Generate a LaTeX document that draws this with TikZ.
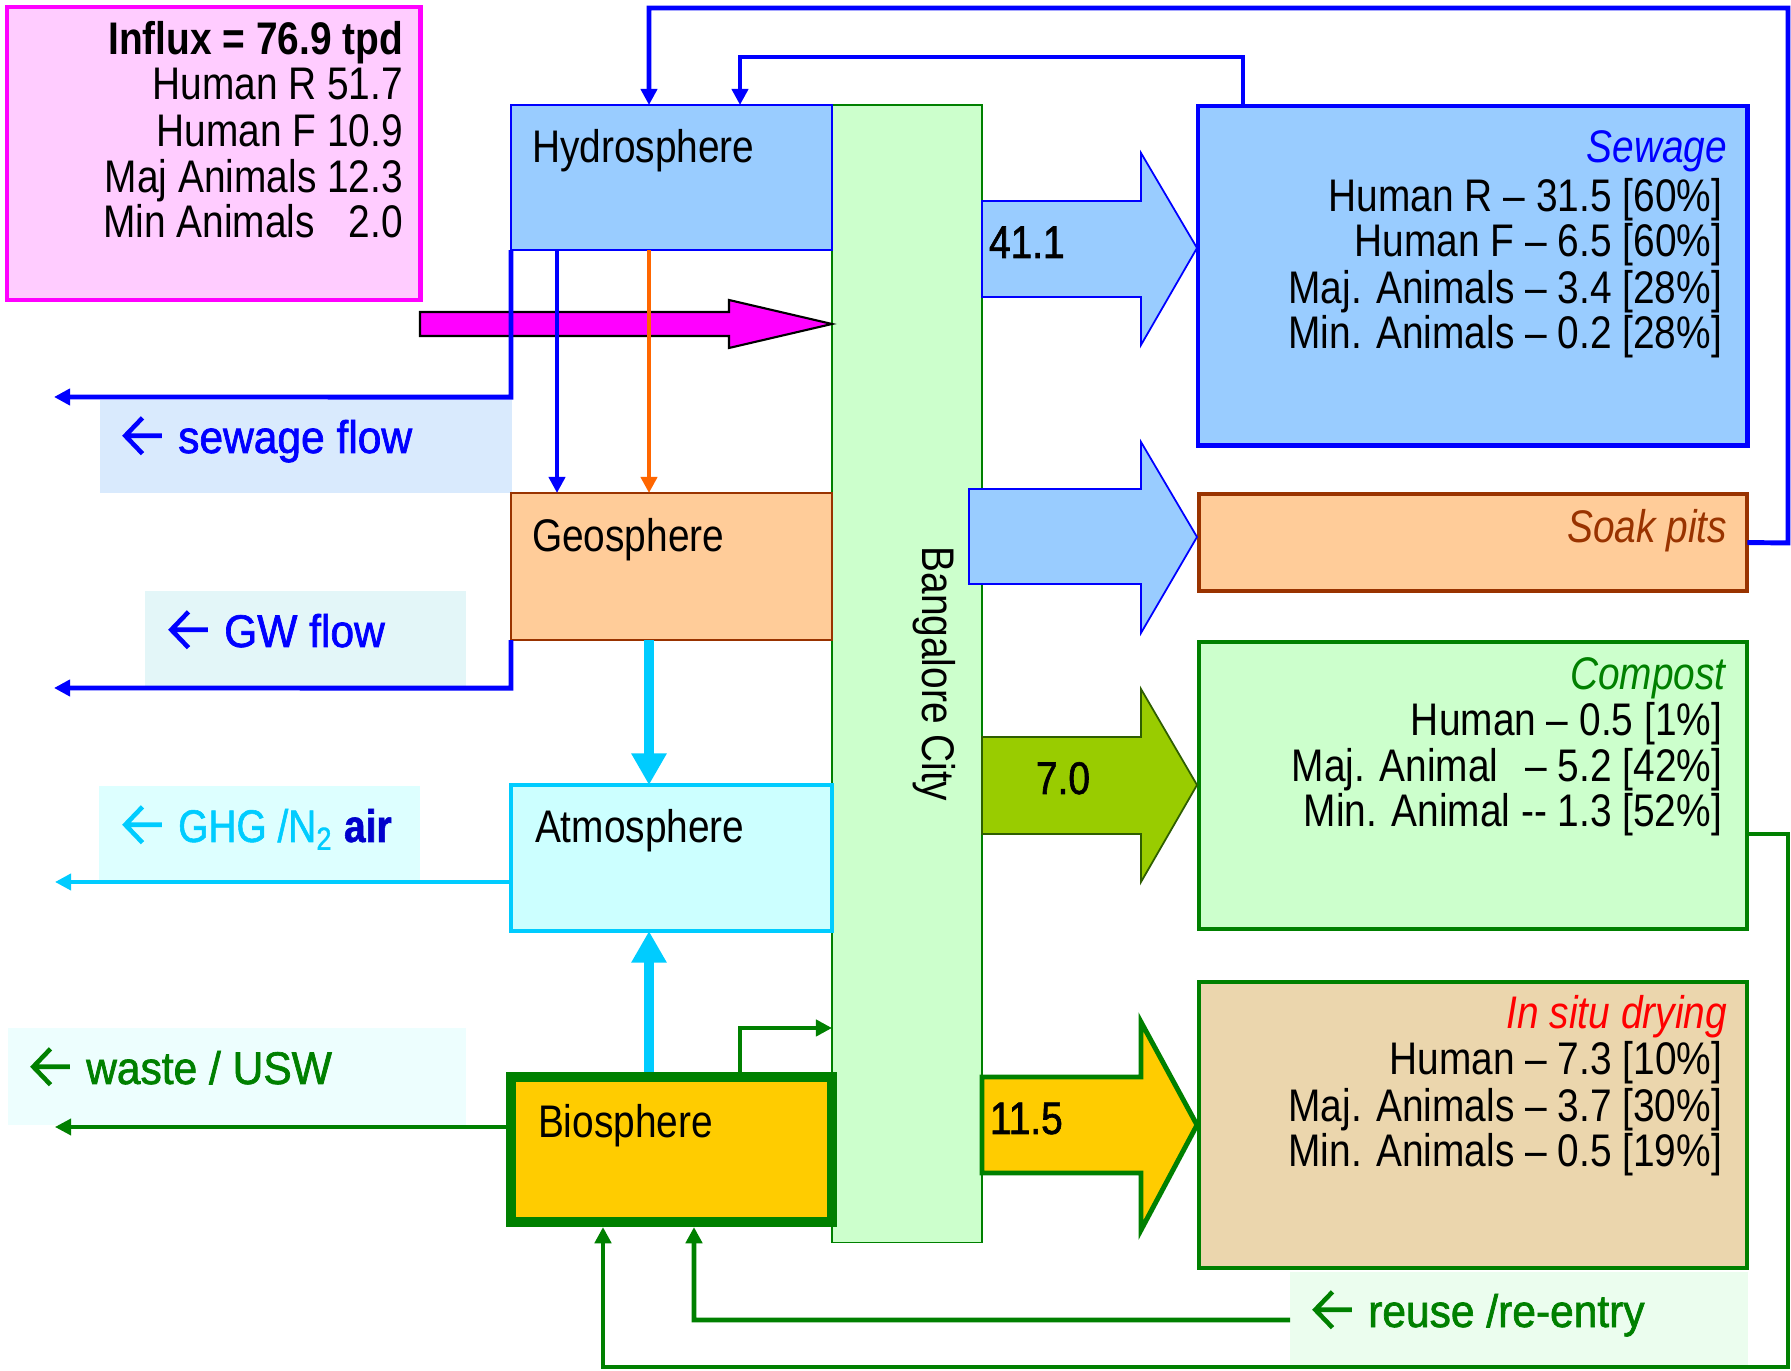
\documentclass[tikz,border=0pt]{standalone}
\usepackage{fontspec}
\setmainfont[FakeStretch=0.85]{Liberation Sans}
\newfontfamily\semibold[FakeStretch=0.85,FakeBold=1.3]{Liberation Sans}
\newfontfamily\labfont[FakeStretch=0.93,FakeBold=1.5]{Liberation Sans}
\newfontfamily\ghgfont[FakeStretch=0.85,FakeBold=1.2]{Liberation Sans}
\usetikzlibrary{arrows.meta,calc}
\definecolor{mag}{HTML}{FF00FF}
\definecolor{influxfill}{HTML}{FFCCFF}
\definecolor{hydfill}{HTML}{99CCFF}
\definecolor{colfill}{HTML}{CCFFCC}
\definecolor{geofill}{HTML}{FFCC99}
\definecolor{brn}{HTML}{993300}
\definecolor{atmfill}{HTML}{CCFFFF}
\definecolor{cyn}{HTML}{00CCFF}
\definecolor{gold}{HTML}{FFCC00}
\definecolor{grn}{HTML}{008000}
\definecolor{blu}{HTML}{0000FF}
\definecolor{darkblu}{HTML}{0000CC}
\definecolor{org}{HTML}{FF6600}
\definecolor{tanfill}{HTML}{EBD6AD}
\definecolor{limefill}{HTML}{99CC00}
\definecolor{limedraw}{HTML}{2E5E00}
\definecolor{redtxt}{HTML}{FF0000}
\definecolor{sewlabfill}{HTML}{D9EAFD}
\definecolor{gwlabfill}{HTML}{E3F6F8}
\definecolor{ghglabfill}{HTML}{DDFFFF}
\definecolor{wastelabfill}{HTML}{EDFEFE}
\definecolor{reuselabfill}{HTML}{EBFDEE}
\newcommand\diagfont{\fontsize{13pt}{15pt}\selectfont}
\newcommand\larr[1]{\tikz[baseline=0pt,x=1pt,y=1pt]{\draw[#1,line width=1.3pt,line join=miter] (11.2,4.9) -- (1,4.9) (5.7,10) -- (0.8,4.9) -- (5.7,-0.2);}\hspace{4pt}}
\begin{document}
\begin{tikzpicture}[x=0.01cm,y=-0.01cm,
  every node/.style={inner sep=0pt,outer sep=0pt,font=\diagfont},
  box/.style={anchor=north west,draw},
  lab/.style={anchor=north west},
  lt/.style={anchor=base west},
  rt/.style={anchor=base east},
  tip/.style={-{Triangle[length=4.6pt,width=4.6pt]}},
  bigtip/.style={-{Triangle[length=9pt,width=9.5pt]}},
  flow/.style={line width=1.4pt,tip},
]
\useasboundingbox[fill=white] (0,0) rectangle (1791,1371);

% label backgrounds
\node[lab,fill=sewlabfill,minimum width=4.12cm,minimum height=0.93cm] (sewlab) at (100,400) {};
\node[lab,fill=gwlabfill,minimum width=3.21cm,minimum height=0.97cm] (gwlab) at (145,591) {};
\node[lab,fill=ghglabfill,minimum width=3.21cm,minimum height=0.94cm] (ghglab) at (99,786) {};
\node[lab,fill=wastelabfill,minimum width=4.58cm,minimum height=0.97cm] (wastelab) at (8,1028) {};

% boxes
\node[box,draw=mag,fill=influxfill,line width=1.3pt,minimum width=4.13cm,minimum height=2.93cm] (influx) at (7,7) {};
\node[box,draw=grn,fill=colfill,line width=0.45pt,minimum width=1.50cm,minimum height=11.37cm] (col) at (832,105) {};
\node[box,draw=blu,fill=hydfill,line width=0.45pt,minimum width=3.21cm,minimum height=1.45cm] (hyd) at (511,105) {};
\node[box,draw=brn,fill=geofill,line width=0.45pt,minimum width=3.21cm,minimum height=1.47cm] (geo) at (511,493) {};
\node[box,draw=cyn,fill=atmfill,line width=1.1pt,minimum width=3.21cm,minimum height=1.46cm] (atm) at (511,785) {};
\node[box,draw=grn,fill=gold,line width=2.8pt,minimum width=3.21cm,minimum height=1.45cm] (bio) at (511,1077) {};
\node[box,draw=blu,fill=hydfill,line width=1.4pt,minimum width=5.49cm,minimum height=3.39cm] (sew) at (1198,106) {};
\node[box,draw=brn,fill=geofill,line width=1.1pt,minimum width=5.48cm,minimum height=0.97cm] (soak) at (1199,494) {};
\node[box,draw=grn,fill=colfill,line width=1.2pt,minimum width=5.48cm,minimum height=2.87cm] (comp) at (1199,642) {};
\node[box,draw=grn,fill=tanfill,line width=1.2pt,minimum width=5.48cm,minimum height=2.86cm] (insitu) at (1199,982) {};
\node[lab,fill=reuselabfill,minimum width=4.58cm,minimum height=0.96cm] (reuselab) at (1290,1272) {};

% influx arrow
\draw[fill=mag,line width=0.6pt] (420,312) -- (729,312) -- (729,300) -- (832,324) -- (729,348) -- (729,336) -- (420,336) -- cycle;

% connectors
\coordinate (sewout) at (54,397);
\coordinate (gwout) at (54,688);
\coordinate (ghgout) at (55,882);
\coordinate (wasteout) at (55,1127);
\draw[blu,flow] (hyd.south west) -- ++(0,147) -- (sewout);
\draw[blu,flow] (geo.south west) -- ++(0,48) -- (gwout);
\draw[cyn,line width=1.1pt,tip] ($(atm.north west)+(0,97)$) -- (ghgout);
\draw[grn,line width=1pt,tip] ($(bio.north west)+(-5,50)$) -- (wasteout);
\draw[blu,line width=1.3pt,tip] ($(hyd.south west)+(46,0)$) -- ($(geo.north west)+(46,0)$);
\draw[org,line width=1.3pt,tip] ($(hyd.south west)+(138,0)$) -- ($(geo.north west)+(138,0)$);
\draw[cyn,line width=2.6pt,bigtip] ($(geo.south west)+(138,0)$) -- ($(atm.north west)+(138,0)$);
\draw[cyn,line width=2.6pt,bigtip] ($(bio.north west)+(138,-5)$) -- ($(atm.south west)+(138,0)$);
\draw[grn,flow] ($(bio.north west)+(229,-5)$) -- ++(0,-44) -- ($(col.north west)+(0,923)$);
\draw[blu,flow] (soak.east) -- (1788,543) -- (1788,8) -- (649,8) -- ($(hyd.north west)+(138,0)$);
\draw[blu,flow] ($(sew.north west)+(45,0)$) -- (1243,57) -- (740,57) -- ($(hyd.north west)+(229,0)$);
\draw[grn,flow] (reuselab.west) -- (694,1320) -- ($(bio.south west)+(183,5)$);
\draw[grn,flow] ($(comp.north east)+(0,192)$) -- (1788,834) -- (1788,1367) -- (603,1367) -- ($(bio.south west)+(92,5)$);

% big flow arrows
\draw[blu,fill=hydfill,line width=0.5pt] (982,201) -- (1141,201) -- (1141,153) -- (1197,248) -- (1141,345) -- (1141,297) -- (982,297) -- cycle;
\draw[blu,fill=hydfill,line width=0.5pt] (969,489) -- (1141,489) -- (1141,442) -- (1197,537) -- (1141,633) -- (1141,584) -- (969,584) -- cycle;
\draw[limedraw,fill=limefill,line width=0.5pt] (982,737) -- (1141,737) -- (1141,689) -- (1197,785) -- (1141,882) -- (1141,834) -- (982,834) -- cycle;
\draw[grn,fill=gold,line width=1.4pt] (982,1077) -- (1141,1077) -- (1141,1022) -- (1197,1125) -- (1141,1230) -- (1141,1173) -- (982,1173) -- cycle;

% texts
\node[rt] (in0) at (403,55) {\textbf{Influx = 76.9 tpd}};
\node[rt] (in1) at (403,100) {Human R 51.7};
\node[rt] (in2) at (403,147) {Human F 10.9};
\node[rt] (in3) at (403,193) {Maj Animals 12.3};
\node[rt] (in4) at (403,238) {Min Animals\hspace{0.34cm}2.0};

\node[lt] (hydtxt) at (532,163) {Hydrosphere};
\node[lt] (geotxt) at (532,552) {Geosphere};
\node[lt] (atmtxt) at (535,843) {Atmosphere};
\node[lt] (biotxt) at (538,1138) {Biosphere};
\node[rotate=-90] (bcity) at (934,674) {Bangalore City};

\node[lt,text=blu] (sewtxt) at (123,453) {\larr{blu}\labfont sewage flow};
\node[lt,text=blu] (gwtxt) at (169,647) {\larr{blu}\labfont GW flow};
\node[lt,text=cyn] (ghgtxt) at (123,842) {\larr{cyn}\ghgfont GHG /N\textsubscript{2} \textcolor{darkblu}{\bfseries air}};
\node[lt,text=grn] (wastetxt) at (31,1084) {\larr{grn}\labfont waste / USW};
\node[lt,text=grn] (reusetxt) at (1313,1327) {\larr{grn}\labfont reuse /re-entry};

\node[lt] (v1) at (989,258) {\semibold 41.1};
\node[lt] (v2) at (1036,794) {\semibold 7.0};
\node[lt] (v3) at (990,1134) {\semibold 11.5};

\node[rt,text=blu] (s0) at (1727,163) {\textit{Sewage}};
\node[rt] (s1) at (1722,212) {Human R – 31.5 [60\%]};
\node[rt] (s2) at (1722,257) {Human F – 6.5 [60\%]};
\node[rt] (s3) at (1722,304) {Maj. Animals – 3.4 [28\%]};
\node[rt] (s4) at (1722,349) {Min. Animals – 0.2 [28\%]};

\node[rt,text=brn] (p0) at (1727,543) {\textit{Soak pits}};

\node[rt,text=grn] (c0) at (1727,690) {\textit{Compost}};
\node[rt] (c1) at (1722,736) {Human – 0.5 [1\%]};
\node[rt] (c2) at (1722,782) {Maj. Animal\hspace{0.27cm}– 5.2 [42\%]};
\node[rt] (c3) at (1722,827) {Min. Animal -{}- 1.3 [52\%]};

\node[rt,text=redtxt] (d0) at (1727,1029) {\textit{In situ drying}};
\node[rt] (d1) at (1722,1075) {Human – 7.3 [10\%]};
\node[rt] (d2) at (1722,1122) {Maj. Animals – 3.7 [30\%]};
\node[rt] (d3) at (1722,1166) {Min. Animals – 0.5 [19\%]};
\end{tikzpicture}
\end{document}
